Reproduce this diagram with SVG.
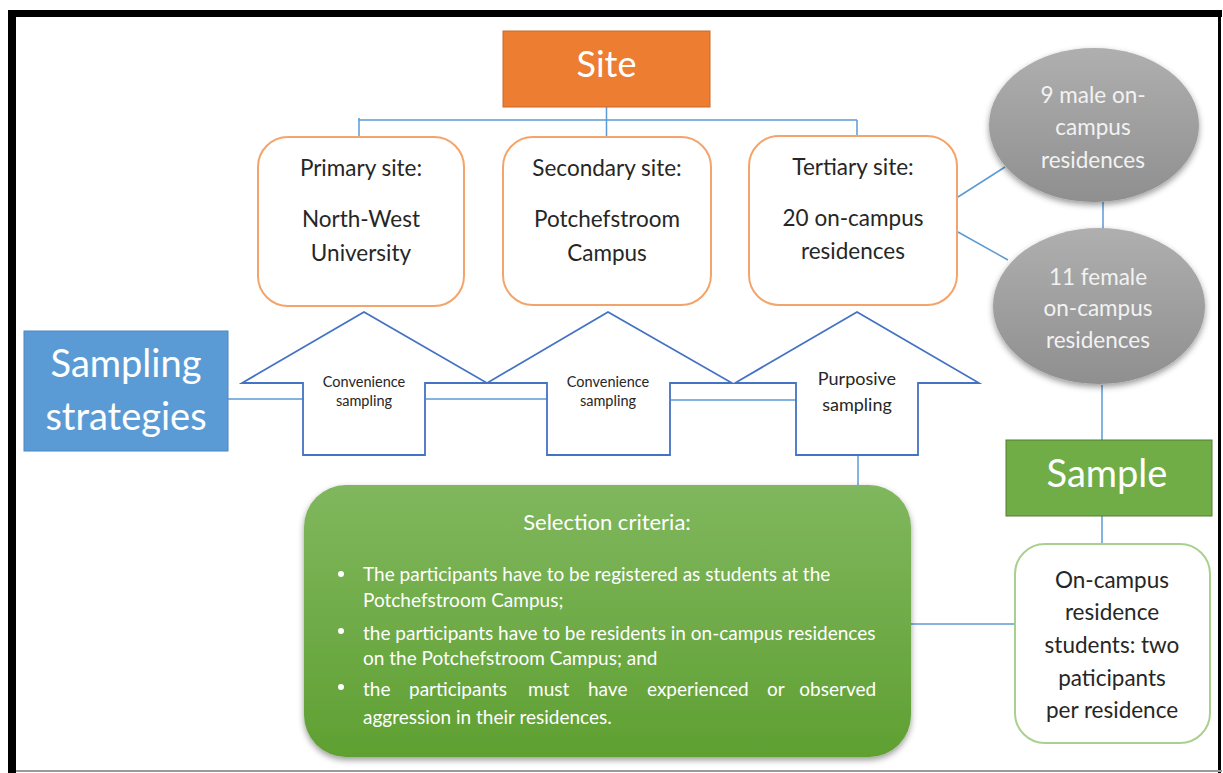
<svg xmlns="http://www.w3.org/2000/svg" width="1223" height="773" viewBox="0 0 1223 773">
<defs>
<style>
.t{font-family:Lato,"Open Sans","Liberation Sans",sans-serif;}
.dark{fill:#262626;}
.white{fill:#FFFFFF;}
.lite{fill:#F2F2F2;}
.site{fill:none;stroke:#F4A46A;stroke-width:2;}
.arrow{fill:#FFFFFF;stroke:#4472C4;stroke-width:1.8;}
.conn{fill:none;stroke:#5B9BD5;stroke-width:1.5;}
</style>
<linearGradient id="gGray" x1="0" y1="0" x2="0" y2="1">
<stop offset="0" stop-color="#AFAFAF"/>
<stop offset="1" stop-color="#8F8F8F"/>
</linearGradient>
<linearGradient id="gGreen" x1="0" y1="0" x2="0" y2="1">
<stop offset="0" stop-color="#80B75E"/>
<stop offset="1" stop-color="#5FA032"/>
</linearGradient>
<filter id="shadow" x="-10%" y="-10%" width="120%" height="125%">
<feDropShadow dx="0" dy="3" stdDeviation="3" flood-color="#000" flood-opacity="0.4"/>
</filter>
</defs>

<!-- frame -->
<rect x="0" y="0" width="1223" height="773" fill="#FFFFFF"/>
<rect x="8" y="10" width="8" height="763" fill="#000"/>
<rect x="8" y="10" width="1214" height="7" fill="#000"/>
<rect x="1218" y="10" width="3" height="763" fill="#000"/>
<rect x="16" y="770" width="1206" height="2" fill="#9A9A9A"/>

<!-- connectors -->
<g id="connectors">
<path class="conn" d="M606.5,107 V137 M359,120 H857 M359,118 V137 M857,120 V136"/>
<path class="conn" d="M958,197 L1005,167 M958,232 L1008,260"/>
<path class="conn" d="M1103,202 V229"/>
<path class="conn" d="M1102,385 V440 M1102,516 V545"/>
<path class="conn" d="M228,399 H303 M426,399 H547 M671,400 H797"/>
<path class="conn" d="M858,455 V487"/>
<path class="conn" d="M910,624 H1015"/>
</g>

<!-- Site -->
<g id="site">
<rect x="503" y="31" width="207" height="76" fill="#ED7D31" stroke="#C8692A" stroke-width="1"/>
<text class="t white" x="606.5" y="77" font-size="36" text-anchor="middle">Site</text>
</g>

<g id="primary">
<rect class="site" x="258" y="137" width="206" height="169" rx="30"/>
<text class="t dark" x="361" y="176" font-size="22.5" text-anchor="middle">Primary site:</text>
<text class="t dark" x="361" y="227" font-size="22.5" text-anchor="middle">North-West</text>
<text class="t dark" x="361" y="261" font-size="22.5" text-anchor="middle">University</text>
</g>

<g id="secondary">
<rect class="site" x="503" y="137" width="208" height="168" rx="30"/>
<text class="t dark" x="607" y="176" font-size="22.5" text-anchor="middle">Secondary site:</text>
<text class="t dark" x="607" y="227" font-size="22.5" text-anchor="middle">Potchefstroom</text>
<text class="t dark" x="607" y="261" font-size="22.5" text-anchor="middle">Campus</text>
</g>

<g id="tertiary">
<rect class="site" x="749" y="136" width="208" height="169" rx="30"/>
<text class="t dark" x="853" y="175" font-size="22.5" text-anchor="middle">Tertiary site:</text>
<text class="t dark" x="853" y="226" font-size="22.5" text-anchor="middle">20 on-campus</text>
<text class="t dark" x="853" y="259" font-size="22.5" text-anchor="middle">residences</text>
</g>

<g id="male">
<ellipse cx="1094" cy="125" rx="105" ry="77" fill="url(#gGray)" filter="url(#shadow)"/>
<text class="t lite" x="1093" y="103" font-size="22.5" text-anchor="middle">9 male on-</text>
<text class="t lite" x="1093" y="135" font-size="22.5" text-anchor="middle">campus</text>
<text class="t lite" x="1093" y="168" font-size="22.5" text-anchor="middle">residences</text>
</g>

<g id="female">
<ellipse cx="1099" cy="306" rx="106" ry="78" fill="url(#gGray)" filter="url(#shadow)"/>
<text class="t lite" x="1098" y="285" font-size="22.5" text-anchor="middle">11 female</text>
<text class="t lite" x="1098" y="316" font-size="22.5" text-anchor="middle">on-campus</text>
<text class="t lite" x="1098" y="348" font-size="22.5" text-anchor="middle">residences</text>
</g>

<g id="sampling-strategies">
<rect x="24" y="331" width="204" height="120" fill="#5B9BD5" stroke="#4A86C0" stroke-width="1"/>
<text class="t white" x="126" y="377" font-size="38" text-anchor="middle">Sampling</text>
<text class="t white" x="126" y="430" font-size="38" text-anchor="middle">strategies</text>
</g>

<g id="convenience1">
<polygon class="arrow" points="364,312 487,383 425,383 425,455 303,455 303,383 242,383"/>
<text class="t dark" x="364" y="387" font-size="14.5" text-anchor="middle">Convenience</text>
<text class="t dark" x="364" y="406" font-size="14.5" text-anchor="middle">sampling</text>
</g>

<g id="convenience2">
<polygon class="arrow" points="608,312 732,383 670,383 670,455 547,455 547,383 487,383"/>
<text class="t dark" x="608" y="387" font-size="14.5" text-anchor="middle">Convenience</text>
<text class="t dark" x="608" y="406" font-size="14.5" text-anchor="middle">sampling</text>
</g>

<g id="purposive">
<polygon class="arrow" points="857,312 979,383 918,383 918,455 796,455 796,383 735,383"/>
<text class="t dark" x="857" y="385" font-size="18" text-anchor="middle">Purposive</text>
<text class="t dark" x="857" y="411" font-size="18" text-anchor="middle">sampling</text>
</g>

<g id="selection-criteria">
<rect x="304" y="485" width="607" height="272" rx="42" fill="url(#gGreen)" filter="url(#shadow)"/>
<text class="t white" x="607" y="530" font-size="22" text-anchor="middle">Selection criteria:</text>
<circle cx="341" cy="574" r="3" fill="#FFFFFF"/>
<circle cx="341" cy="631" r="3" fill="#FFFFFF"/>
<circle cx="341" cy="687" r="3" fill="#FFFFFF"/>
<text class="t white" font-size="19">
<tspan x="363" y="581">The participants have to be registered as students at the</tspan>
<tspan x="363" y="607">Potchefstroom Campus;</tspan>
<tspan x="363" y="640">the participants have to be residents in on-campus residences</tspan>
<tspan x="363" y="665">on the Potchefstroom Campus; and</tspan>
<tspan x="363" y="696">the</tspan>
<tspan x="409" y="696">participants</tspan>
<tspan x="528" y="696">must</tspan>
<tspan x="588" y="696">have</tspan>
<tspan x="647" y="696">experienced</tspan>
<tspan x="767" y="696">or</tspan>
<tspan x="881" y="696" text-anchor="end">observed</tspan>
<tspan x="363" y="724">aggression in their residences.</tspan>
</text>
</g>

<g id="sample">
<rect x="1006" y="440" width="206" height="76" fill="#70AD47" stroke="#507E32" stroke-width="1"/>
<text class="t white" x="1107" y="487" font-size="38" text-anchor="middle">Sample</text>
</g>

<g id="participants">
<rect x="1015" y="544" width="195" height="199" rx="30" fill="#FFFFFF" stroke="#A9D18E" stroke-width="2"/>
<text class="t dark" x="1112" y="588" font-size="22.5" text-anchor="middle">On-campus</text>
<text class="t dark" x="1112" y="620" font-size="22.5" text-anchor="middle">residence</text>
<text class="t dark" x="1112" y="653" font-size="22.5" text-anchor="middle">students: two</text>
<text class="t dark" x="1112" y="686" font-size="22.5" text-anchor="middle">paticipants</text>
<text class="t dark" x="1112" y="718" font-size="22.5" text-anchor="middle">per residence</text>
</g>
</svg>
